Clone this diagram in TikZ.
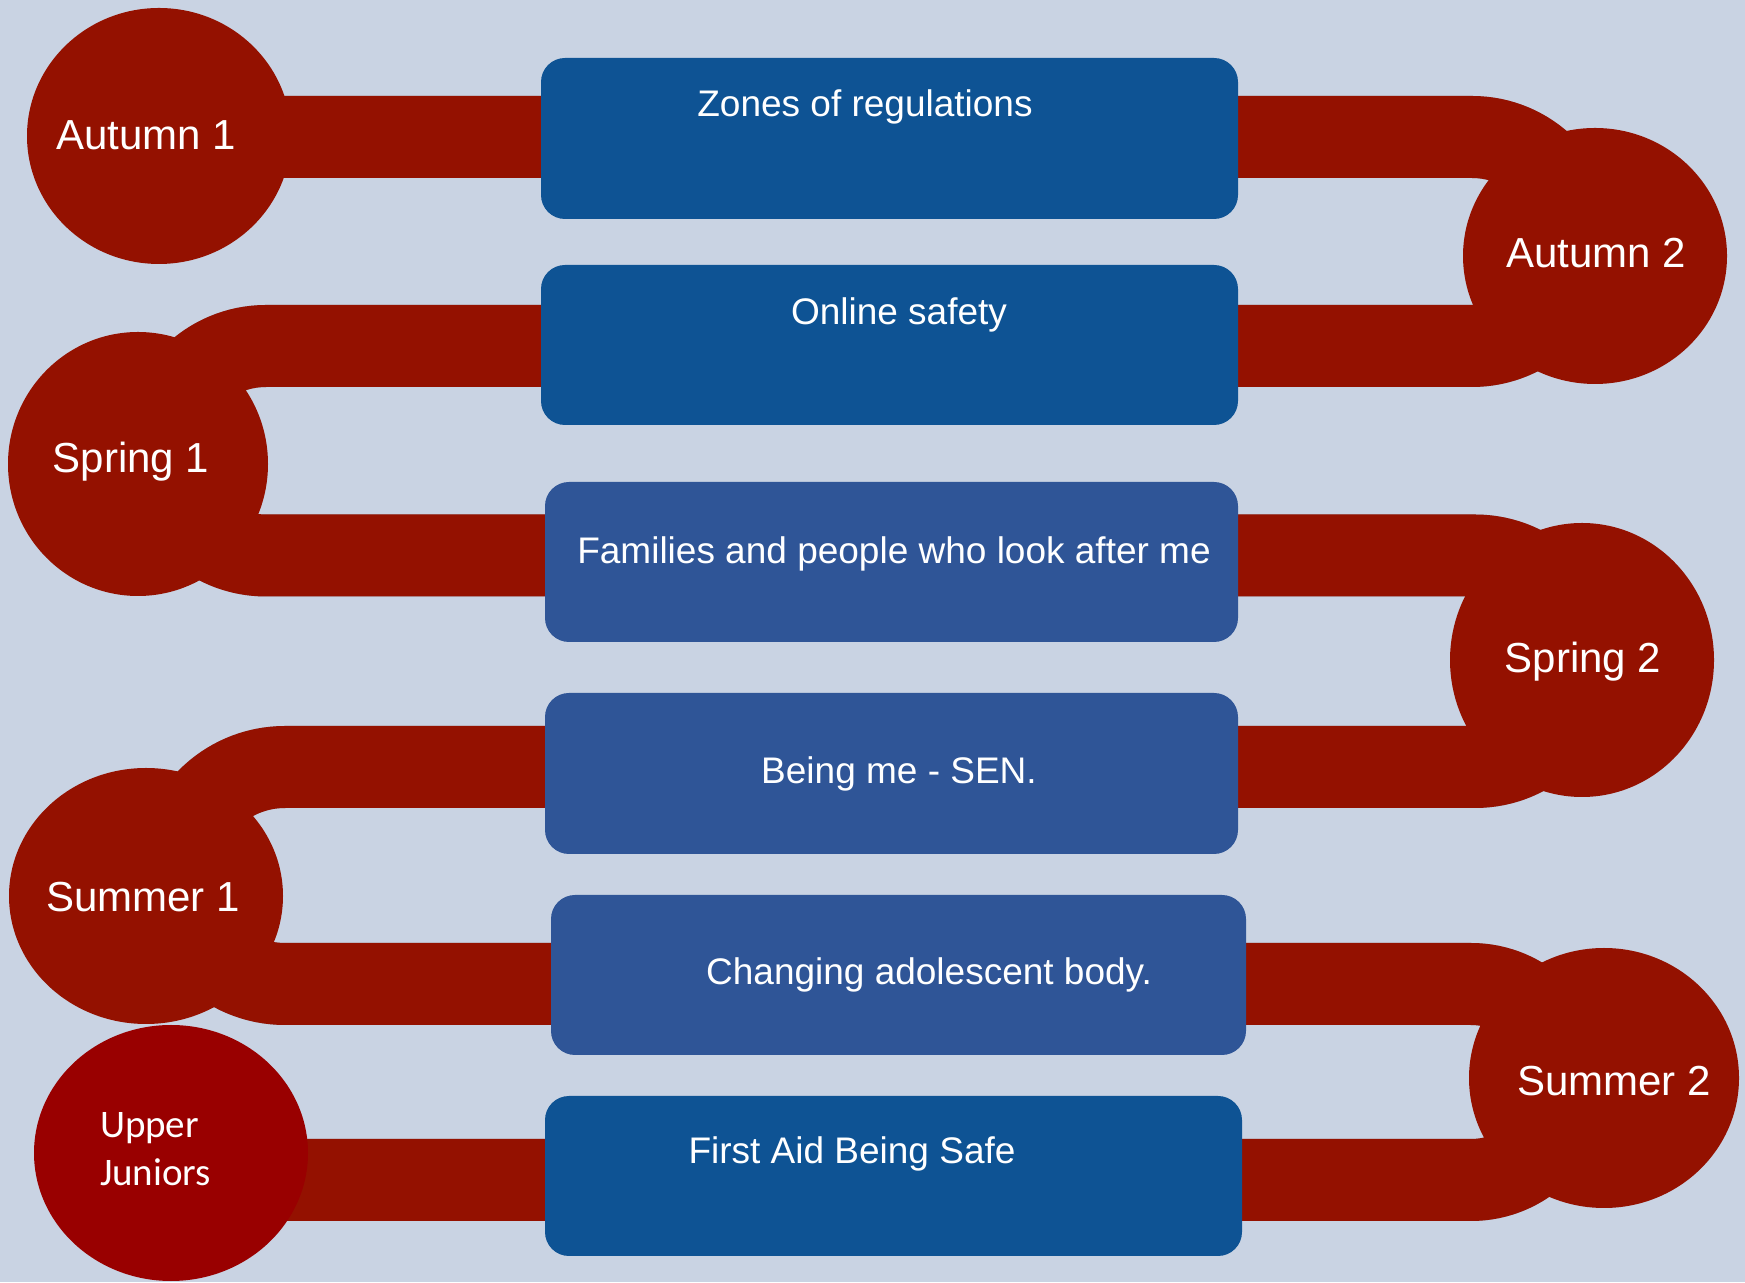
\documentclass[tikz,border=0pt]{standalone}
\usepackage{fontspec}
\setmainfont{Liberation Sans}
\newfontfamily\ujfont{Carlito}
\usepackage{xcolor}
\usepackage{tikz}
\usetikzlibrary{shapes.geometric}

\begin{document}
\begin{tikzpicture}[x=1pt,y=1pt,
  band/.style={draw=bandColor,line width=82pt,line cap=butt,line join=round},
  bandshadow/.style={draw=black,draw opacity=0.22,line width=82pt,line cap=butt,line join=round},
  season/.style={ellipse,fill=bandColor,draw=none,inner sep=0pt,outer sep=0pt},
  topic/.style={rectangle,rounded corners=24pt,draw=none,inner sep=0pt,outer sep=0pt},
  seasonlbl/.style={text=white,anchor=base,inner sep=0pt,outer sep=0pt,font=\fontsize{42}{50}\selectfont},
  topiclbl/.style={text=white,anchor=base,inner sep=0pt,outer sep=0pt,font=\fontsize{37}{44}\selectfont}]
\definecolor{bgColor}{RGB}{201,211,227}
\definecolor{bandColor}{RGB}{148,17,0}
\definecolor{ujColor}{RGB}{153,0,0}
\definecolor{boxDark}{RGB}{14,83,148}
\definecolor{boxMid}{RGB}{47,85,151}
\path[use as bounding box,fill=bgColor] (0,0) rectangle (1745,1282);

\coordinate (t0) at ( 159,1145);
\coordinate (t1) at (1472,1145);
\coordinate (t2) at ( 266, 936);
\coordinate (t3) at (1475, 726.5);
\coordinate (t4) at ( 285, 515);
\coordinate (t5) at (1471, 298);
\coordinate (t6) at ( 171, 102);

\path[bandshadow,shift={(3,-5)}] (t0) -- (t1) arc[start angle=90,end angle=-90,radius=104.5]
  -- (t2) arc[start angle=90,end angle=270,radius=104.75]
  -- (t3) arc[start angle=90,end angle=-90,radius=105.75]
  -- (t4) arc[start angle=90,end angle=270,radius=108.5]
  -- (t5) arc[start angle=90,end angle=-90,radius=98] -- (t6);

\path[band] (t0) -- (t1) arc[start angle=90,end angle=-90,radius=104.5]
  -- (t2) arc[start angle=90,end angle=270,radius=104.75]
  -- (t3) arc[start angle=90,end angle=-90,radius=105.75]
  -- (t4) arc[start angle=90,end angle=270,radius=108.5]
  -- (t5) arc[start angle=90,end angle=-90,radius=98] -- (t6);

\node[season,minimum width=264,minimum height=256] (aut1) at ( 159,1146) {};
\node[season,minimum width=264,minimum height=256] (aut2) at (1595,1026) {};
\node[season,minimum width=260,minimum height=264] (spr1) at ( 138, 818) {};
\node[season,minimum width=264,minimum height=274] (spr2) at (1582, 622) {};
\node[season,minimum width=274,minimum height=256] (sum1) at ( 146, 386) {};
\node[season,minimum width=270,minimum height=260] (sum2) at (1604, 204) {};
\node[season,fill=ujColor,minimum width=274,minimum height=256] (uj) at ( 171, 129) {};

\node[topic,fill=boxDark,minimum width=697,minimum height=161] (box1) at (889.5,1143.5) {};
\node[topic,fill=boxDark,minimum width=697,minimum height=160] (box2) at (889.5, 937) {};
\node[topic,fill=boxMid,minimum width=693,minimum height=160] (box3) at (891.5, 720) {};
\node[topic,fill=boxMid,minimum width=693,minimum height=161] (box4) at (891.5, 508.5) {};
\node[topic,fill=boxMid,minimum width=695,minimum height=160] (box5) at (898.5, 307) {};
\node[topic,fill=boxDark,minimum width=697,minimum height=160] (box6) at (893.5, 106) {};

\node[seasonlbl] (aut1lbl) at ( 146,1132) {Autumn 1};
\node[seasonlbl] (aut2lbl) at (1596,1014) {Autumn 2};
\node[seasonlbl] (spr1lbl) at ( 131, 809) {Spring 1};
\node[seasonlbl] (spr2lbl) at (1583, 609) {Spring 2};
\node[seasonlbl] (sum1lbl) at ( 143, 370) {Summer 1};
\node[seasonlbl] (sum2lbl) at (1614, 186) {Summer 2};
\node[text=white,anchor=base west,inner sep=0pt,outer sep=0pt,align=left,font=\ujfont\fontsize{39}{48}\selectfont] (ujlbl) at (100,96) {Upper\\Juniors};

\node[topiclbl] (box1lbl) at (865,1165) {Zones of regulations};
\node[topiclbl] (box2lbl) at (899, 957) {Online safety};
\node[topiclbl] (box3lbl) at (894, 718) {Families and people who look after me};
\node[topiclbl] (box4lbl) at (899, 498) {Being me - SEN.};
\node[topiclbl] (box5lbl) at (929, 297) {Changing adolescent body.};
\node[topiclbl] (box6lbl) at (852, 118) {First Aid Being Safe};
\end{tikzpicture}
\end{document}
